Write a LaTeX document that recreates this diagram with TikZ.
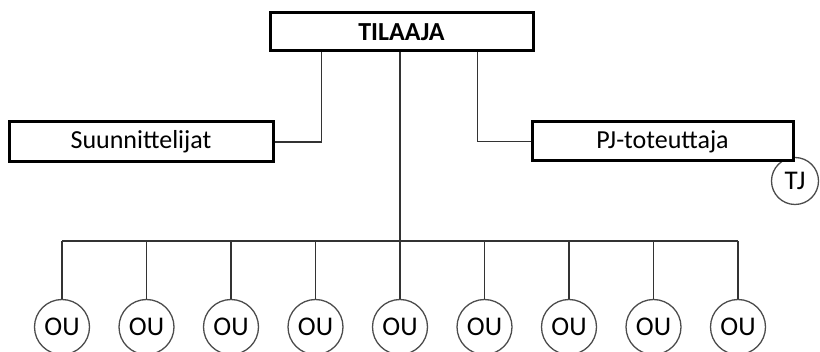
\documentclass[tikz,border=0pt]{standalone}
\usepackage{fontspec}
\setmainfont{Carlito}
\begin{document}
\begin{tikzpicture}[x=1pt,y=-1pt,
  orgbox/.style={draw=black,line width=3pt,fill=white,inner sep=0pt,
    font=\fontsize{26}{30}\selectfont},
  unit/.style={circle,draw=black!70,line width=1.3pt,fill=white,inner sep=0pt,
    minimum size=55pt,font=\fontsize{27}{30}\selectfont},
  conn/.style={draw=black!80,line width=1.8pt}]
\useasboundingbox (0,0) rectangle (820,352);

% top level
\node[orgbox,minimum width=263pt,minimum height=38pt,font=\fontsize{26}{30}\selectfont\bfseries]
  (tilaaja) at (401.5,32) {TILAAJA};

% second level (the TJ circle sits behind the contractor box)
\node[unit,minimum size=47pt] (tj) at (795,181) {TJ};
\node[orgbox,minimum width=264pt,minimum height=40pt] (suun) at (141,142) {Suunnittelijat};
\node[orgbox,minimum width=261pt,minimum height=39pt] (pj) at (662.5,141.5) {PJ-toteuttaja};

% bus points for the units
\foreach \i in {0,...,8} {
  \coordinate (b\i) at ({62+84.5*\i},241);
}

% connectors from the top box
\draw[conn] (tilaaja.south west) ++(53,0) |- (suun.east);
\draw[conn] (tilaaja.south east) ++(-57,0) |- (pj.west);
\draw[conn] (tilaaja.south -| b4) -- (b4);
\draw[conn] (b0) -- (b8);

% units
\foreach \i in {0,...,8} {
  \node[unit] (ou\i) at ({62+84.5*\i},327) {OU};
  \draw[conn] (b\i) -- (ou\i.north);
}
\end{tikzpicture}
\end{document}
